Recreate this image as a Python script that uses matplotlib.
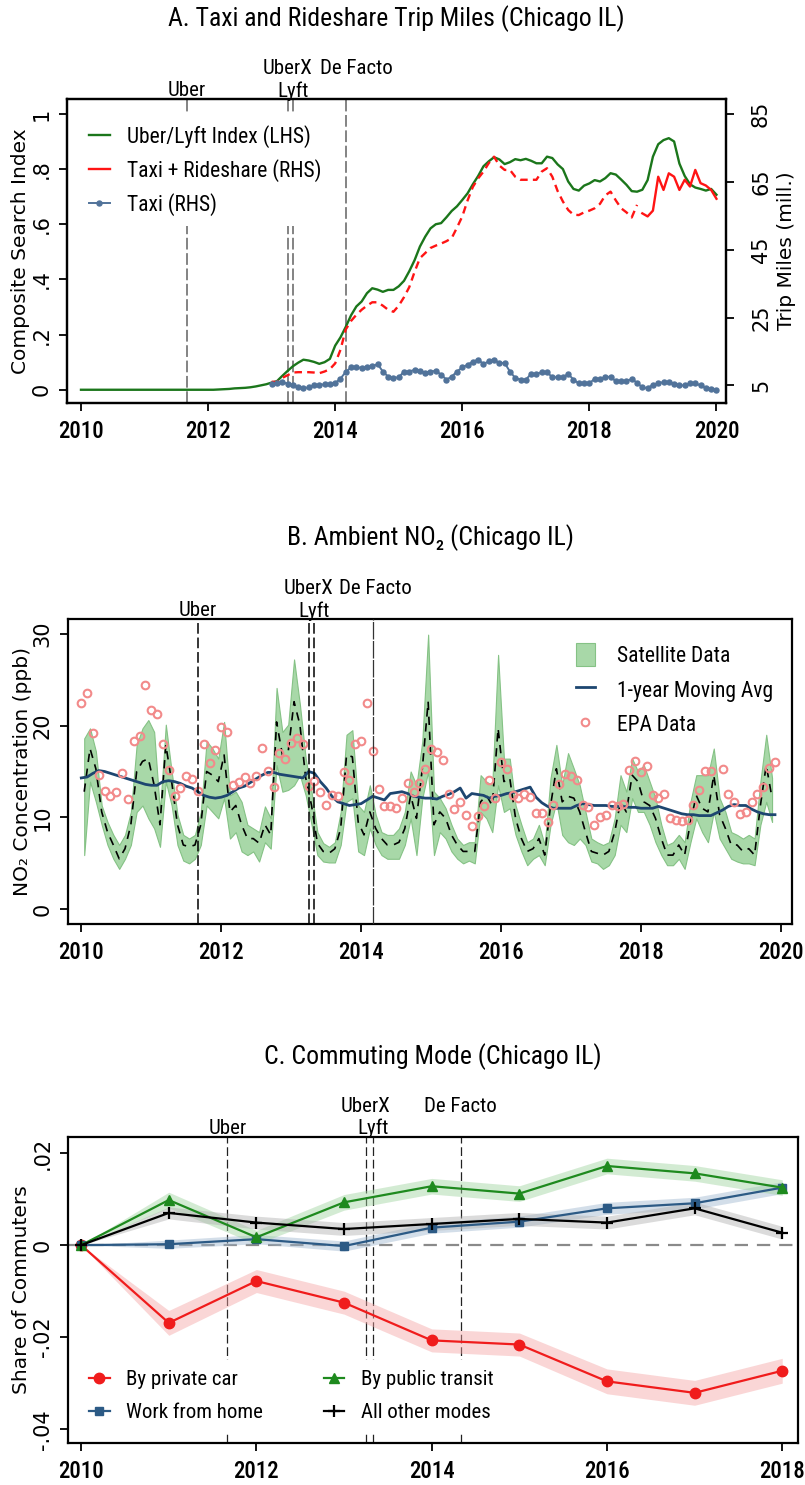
import numpy as np
import matplotlib
matplotlib.use("Agg")
import matplotlib.pyplot as plt
from matplotlib import font_manager as fm
from matplotlib.ticker import FuncFormatter, FixedLocator
from matplotlib.patches import Patch
from matplotlib.lines import Line2D
import matplotlib.transforms as mtransforms

avail = {f.name for f in fm.fontManager.ttflist}
NARROW = next((f for f in ["Liberation Sans Narrow", "Roboto Condensed", "Roboto"] if f in avail), "DejaVu Sans")
WIDE = "DejaVu Sans"
TICK_W = "medium"
TEXT_W = "normal"

# ======================= DATA =======================
# ---- Panel A : monthly, Jan 2010 .. Jan 2020
search_first_year = 2010
uber_lyft_index = [
    0, 0, 0, 0, 0, 0, 0, 0, 0, 0, 0, 0,
    0, 0, 0, 0, 0, 0, 0, 0, 0, 0, 0, 0,
    0, 0, 0.001, 0.002, 0.003, 0.005, 0.006, 0.007, 0.009, 0.012, 0.016, 0.020,
    0.026, 0.031, 0.050, 0.068, 0.085, 0.098, 0.109, 0.106, 0.101, 0.094, 0.100, 0.112,
    0.160, 0.190, 0.228, 0.270, 0.302, 0.320, 0.350, 0.368, 0.363, 0.355, 0.362, 0.362,
    0.375, 0.395, 0.430, 0.470, 0.519, 0.555, 0.585, 0.600, 0.604, 0.625, 0.648, 0.665,
    0.688, 0.712, 0.745, 0.775, 0.810, 0.828, 0.843, 0.835, 0.818, 0.825, 0.836, 0.832,
    0.837, 0.830, 0.821, 0.821, 0.845, 0.840, 0.817, 0.800, 0.755, 0.728, 0.722, 0.740,
    0.748, 0.760, 0.755, 0.767, 0.785, 0.780, 0.762, 0.743, 0.720, 0.718, 0.725, 0.760,
    0.845, 0.890, 0.905, 0.912, 0.900, 0.820, 0.775, 0.745, 0.733, 0.728, 0.722, 0.728,
    0.707,
]
# trip miles (millions), monthly Jan 2013 .. Jan 2020
trips_first_year = 2013
taxi_rideshare_miles = [
    6.1, 6.0, 7.2, 8.0, 8.8, 8.9, 8.9, 8.9, 8.8, 8.6, 9.1, 9.8,
    11.5, 15.5, 21.5, 24.0, 25.8, 27.3, 28.5, 29.5, 29.5, 28.5, 27.3, 26.7,
    28.5, 31.0, 34.0, 38.5, 42.5, 44.0, 45.5, 46.2, 46.8, 47.5, 48.4, 51.5,
    54.8, 59.5, 63.5, 66.0, 68.0, 70.5, 72.4, 69.8, 68.5, 68.5, 66.5, 65.6,
    65.6, 65.6, 65.6, 68.0, 69.0, 66.5, 62.3, 59.2, 56.7, 55.3, 55.2, 56.0,
    56.5, 57.2, 58.5, 61.0, 62.1, 59.5, 57.2, 56.0, 54.5, 58.2, 55.7, 54.8,
    56.5, 66.5, 62.6, 67.5, 66.5, 62.6, 65.6, 63.6, 68.5, 64.6, 63.9, 62.6,
    60.0,
]
rideshare_imputed_until = 2018.75   # dashed segment (through Oct 2018)
taxi_miles = [
    5.4, 5.6, 6.0, 5.5, 5.1, 4.6, 4.2, 4.4, 5.0, 5.2, 5.3, 5.5,
    5.7, 7.0, 9.0, 10.3, 10.3, 10.2, 10.3, 10.6, 11.3, 9.1, 7.6, 7.2,
    7.4, 9.1, 9.1, 9.6, 9.3, 8.8, 9.1, 9.3, 8.2, 6.7, 7.6, 9.1,
    10.3, 11.1, 12.0, 12.6, 11.3, 12.1, 12.6, 11.6, 11.6, 9.1, 7.2, 6.7,
    6.7, 8.4, 8.4, 8.9, 8.9, 7.4, 7.4, 7.4, 8.4, 6.7, 5.6, 5.6,
    5.6, 7.0, 7.0, 7.4, 7.6, 6.2, 6.2, 6.3, 6.9, 5.8, 4.4, 4.2,
    5.2, 5.6, 6.0, 6.0, 5.5, 5.0, 5.0, 5.6, 5.6, 5.0, 4.2, 4.0,
    3.7,
]

# ---- Events
event_names = ["Uber", "UberX", "Lyft", "De Facto"]
event_dates = [2011.67, 2013.25, 2013.33, 2014.17]
event_dates_c = [2011.67, 2013.25, 2013.33, 2014.33]
event_label_dates_a = [2011.67, 2013.25, 2013.33, 2014.33]
event_label_dates_b = [2011.67, 2013.25, 2013.33, 2014.21]

# ---- Panel B : satellite NO2 (monthly Jan 2010 .. Nov 2019)
no2_first_year = 2010
sat_upper = [
    18.6, 19.7, 17.2, 11.3, 9.5, 8.1, 7.0, 8.1, 10.6, 17.9, 19.7, 20.6,
    19.3, 10.6, 20.1, 15.0, 10.3, 8.1, 7.7, 8.1, 10.6, 18.3, 17.5, 16.4,
    20.4, 12.4, 12.8, 11.7, 9.2, 8.8, 8.4, 11.2, 9.9, 24.1, 19.3, 20.1,
    27.2, 22.3, 16.4, 12.8, 8.4, 7.2, 6.8, 7.3, 10.6, 19.0, 19.5, 11.3,
    10.6, 13.5, 10.3, 8.4, 8.1, 8.1, 8.8, 10.6, 15.0, 13.5, 18.3, 29.9,
    12.8, 12.1, 11.0, 9.2, 7.7, 7.0, 7.3, 7.3, 14.6, 13.9, 13.5, 27.7,
    16.4, 16.4, 11.3, 9.2, 7.3, 7.7, 9.2, 7.0, 14.3, 17.9, 13.5, 17.0,
    15.3, 13.5, 10.6, 7.7, 7.3, 7.0, 7.3, 9.9, 14.6, 12.8, 16.4, 15.0,
    15.7, 13.9, 12.1, 9.2, 7.0, 7.3, 8.1, 7.3, 11.7, 14.6, 14.6, 14.6,
    17.5, 12.1, 10.6, 8.4, 8.1, 7.7, 8.1, 7.7, 13.9, 19.0, 14.3,
]
sat_median = [
    12.8, 17.5, 15.3, 10.6, 8.4, 7.0, 5.5, 6.6, 9.2, 15.0, 16.1, 16.4,
    13.5, 9.2, 17.9, 13.9, 9.2, 7.0, 6.8, 7.0, 9.2, 15.0, 14.6, 13.9,
    16.8, 10.6, 11.3, 9.2, 7.7, 7.7, 7.2, 9.2, 8.1, 20.4, 16.8, 17.2,
    22.6, 20.1, 14.3, 11.3, 7.2, 6.3, 6.1, 6.6, 8.8, 16.8, 16.6, 9.5,
    8.1, 10.6, 8.8, 7.7, 7.0, 7.0, 7.3, 8.8, 12.4, 9.9, 15.3, 22.6,
    9.2, 10.6, 9.9, 8.1, 7.0, 6.3, 6.3, 6.3, 11.7, 12.4, 11.3, 19.7,
    13.9, 14.3, 9.9, 7.7, 6.3, 6.6, 7.7, 5.9, 11.3, 15.3, 11.7, 12.3,
    12.1, 10.6, 8.4, 6.3, 6.1, 5.9, 6.3, 8.4, 11.7, 10.6, 14.6, 13.9,
    11.7, 11.3, 9.9, 7.7, 5.9, 5.9, 7.0, 5.9, 9.5, 12.4, 11.0, 10.6,
    14.6, 10.3, 8.8, 7.0, 7.0, 6.3, 6.6, 5.9, 11.3, 15.7, 12.1,
]
sat_lower = [
    5.9, 13.9, 11.7, 9.2, 7.0, 5.5, 4.4, 5.5, 7.0, 10.6, 11.3, 9.9,
    8.8, 6.8, 13.9, 11.3, 7.0, 5.3, 5.0, 5.5, 7.0, 11.3, 10.6, 9.9,
    12.1, 7.7, 8.4, 6.3, 5.9, 6.3, 5.2, 7.3, 6.6, 15.7, 12.8, 13.0,
    13.5, 14.6, 12.4, 9.2, 5.9, 5.2, 5.1, 5.1, 7.0, 11.7, 12.1, 6.3,
    5.9, 8.8, 7.0, 5.9, 5.5, 5.5, 5.5, 7.0, 9.9, 5.9, 12.1, 15.0,
    5.9, 8.4, 7.7, 6.3, 5.5, 5.0, 5.3, 5.0, 10.6, 9.9, 8.4, 13.5,
    10.6, 11.0, 8.1, 6.3, 4.8, 5.5, 5.9, 4.8, 9.2, 11.7, 8.1, 7.3,
    7.0, 7.7, 7.0, 5.2, 5.0, 4.4, 4.8, 5.9, 9.2, 8.4, 12.1, 10.6,
    10.6, 9.2, 7.3, 5.9, 4.8, 4.8, 5.5, 4.4, 7.3, 9.9, 8.4, 7.3,
    10.6, 7.7, 6.6, 5.5, 5.2, 5.0, 5.0, 4.8, 9.2, 11.7, 9.5,
]
# 1-year moving average (monthly Jan 2010 .. Dec 2019)
moving_avg = [
    14.3, 14.4, 14.8, 15.1, 15.0, 14.8, 14.6, 14.4, 14.2, 14.0, 13.8, 13.6,
    13.5, 13.5, 13.9, 14.0, 13.9, 13.7, 13.4, 13.2, 12.8, 12.4, 12.2, 12.1,
    12.2, 12.4, 12.8, 13.2, 13.4, 13.8, 14.2, 14.6, 14.9, 14.9, 14.7, 14.6,
    14.5, 14.4, 14.3, 15.0, 14.8, 13.9, 13.2, 12.3, 11.7, 11.5, 11.3, 11.4,
    11.5, 11.9, 12.3, 12.1, 11.9, 12.6, 12.7, 12.8, 12.6, 12.3, 12.2, 12.1,
    12.1, 12.0, 12.3, 12.5, 12.8, 13.2, 12.1, 12.6, 12.5, 12.4, 12.1, 12.3,
    12.4, 12.6, 12.7, 12.9, 13.1, 13.3, 12.2, 11.6, 11.2, 11.0, 11.0, 11.0,
    11.0, 11.3, 11.5, 11.4, 11.3, 11.3, 11.3, 11.2, 11.2, 11.2, 11.1, 11.1,
    11.0, 11.0, 11.0, 11.2, 11.0, 10.8, 10.6, 10.4, 10.3, 10.3, 10.2, 10.2,
    10.2, 10.5, 10.8, 11.2, 11.4, 11.3, 11.3, 10.9, 10.6, 10.4, 10.3, 10.3,
]
# EPA monitor data (monthly Jan 2010 .. Dec 2019)
epa_no2 = [
    22.5, 23.5, 19.2, 14.6, 12.9, 12.3, 12.8, 14.8, 12.0, 18.3, 18.9, 24.4,
    21.7, 21.3, 18.0, 15.2, 12.3, 13.2, 14.5, 14.2, 12.9, 18.0, 15.9, 17.3,
    19.8, 19.3, 13.5, 13.9, 14.4, 13.8, 14.5, 17.6, 15.1, 13.3, 17.0, 16.4,
    18.1, 18.7, 18.0, 13.4, 14.0, 12.8, 11.3, 12.4, 12.3, 14.9, 14.1, 18.0,
    18.3, 22.5, 17.2, 13.1, 11.2, 11.2, 11.0, 12.1, 13.8, 12.8, 13.7, 15.3,
    17.5, 17.1, 16.3, 12.6, 10.9, 11.7, 10.3, 9.1, 10.2, 11.2, 14.1, 12.1,
    16.0, 15.3, 12.4, 12.1, 12.6, 12.2, 10.5, 10.5, 9.5, 11.3, 13.6, 14.7,
    14.5, 14.1, 11.3, 11.1, 9.2, 10.0, 10.3, 11.3, 11.2, 11.5, 15.2, 16.1,
    14.9, 15.6, 12.4, 12.1, 12.5, 9.9, 9.7, 9.6, 9.7, 11.3, 13.0, 15.1,
    15.1, np.nan, 15.3, 12.5, 11.7, 10.4, 10.6, 11.7, 12.6, 13.3, 15.4, 16.0,
]

# ---- Panel C : commuting mode shares (annual)
years_c = [2010, 2011, 2012, 2013, 2014, 2015, 2016, 2017, 2018]
private_car = [0, -0.0169, -0.0078, -0.0125, -0.0207, -0.0216, -0.0296, -0.0321, -0.0273]
private_car_ci = [0, 0.0027, 0.0025, 0.0025, 0.0025, 0.0025, 0.0027, 0.0027, 0.0027]
public_transit = [0, 0.0098, 0.0017, 0.0093, 0.0128, 0.0112, 0.0172, 0.0156, 0.0125]
public_transit_ci = [0, 0.0017, 0.0015, 0.0017, 0.0017, 0.0017, 0.0017, 0.0017, 0.0017]
work_from_home = [0, 0.0002, 0.0013, -0.0002, 0.0038, 0.0051, 0.0080, 0.0091, 0.0125]
work_from_home_ci = [0, 0.0009, 0.0010, 0.0011, 0.0012, 0.0012, 0.0013, 0.0013, 0.0013]
other_modes = [0, 0.0070, 0.0049, 0.0035, 0.0046, 0.0057, 0.0049, 0.0080, 0.0027]
other_modes_ci = [0, 0.0013, 0.0014, 0.0014, 0.0014, 0.0014, 0.0014, 0.0014, 0.0014]

# ======================= STYLE =======================
W, H = 805, 1485
GREEN = "#1b761b"
RED = "#ff1414"
TAXI = "#51739a"
NAVY = "#1d4670"
EPA_C = "#f28a8a"
BAND_FACE = "#a8d8a8"
BAND_EDGE = "#85c285"
TICK_FS = 16.5
YTICK_FS = 15
LAB_FS = 14.5
LEG_FS = 15.5
EV_FS = 15
TITLE_FS = 18.5
ROW_LO, ROW_HI = 1.027, 1.099


def stata_fmt(v, pos=None):
    s = f"{v:g}"
    if s.startswith("0."):
        s = s[1:]
    elif s.startswith("-0."):
        s = "-" + s[2:]
    return s


def style_axis(ax):
    for sp in ax.spines.values():
        sp.set_linewidth(1.6)
        sp.set_color("black")
    ax.tick_params(axis="x", direction="out", length=6, width=1.3, pad=6)
    ax.tick_params(axis="y", direction="out", length=6, width=1.3, pad=5)
    for lab in ax.get_xticklabels():
        lab.set_fontfamily(NARROW)
        lab.set_fontsize(TICK_FS)
        lab.set_fontweight(TICK_W)
    for lab in ax.get_yticklabels():
        lab.set_fontfamily(WIDE)
        lab.set_fontsize(YTICK_FS)
        lab.set_rotation(90)
        lab.set_va("center")


def put_events(ax, dates, label_dates, line_styles):
    tr = mtransforms.blended_transform_factory(ax.transData, ax.transAxes)
    rows = [ROW_LO, ROW_HI, ROW_LO, ROW_HI]
    for name, d, ld, kw, yy in zip(event_names, dates, label_dates, line_styles, rows):
        ax.axvline(d, **kw)
        ax.text(ld, yy, name, transform=tr, ha="center", va="center",
                fontsize=EV_FS, family=NARROW, fontweight=TEXT_W, clip_on=False)


fig = plt.figure(figsize=(W / 100, H / 100), dpi=100)

# ======================= PANEL A =======================
axA = fig.add_axes([67 / W, 1 - 403 / H, (726 - 67) / W, (403 - 99) / H])
xA = search_first_year + np.arange(len(uber_lyft_index)) / 12.0
axA.plot(xA, uber_lyft_index, color=GREEN, lw=1.7, zorder=3)
axA.set_xlim(2009.78, 2020.15)
axA.set_ylim(-0.048, 1.054)
axA.xaxis.set_major_locator(FixedLocator([2010, 2012, 2014, 2016, 2018, 2020]))
axA.yaxis.set_major_locator(FixedLocator([0, 0.2, 0.4, 0.6, 0.8, 1.0]))
axA.yaxis.set_major_formatter(FuncFormatter(stata_fmt))
a_style = dict(color="#7a7a7a", lw=1.3, dashes=(6.5, 2.0), zorder=1)
put_events(axA, event_dates, event_label_dates_a, [a_style] * 4)

axA2 = axA.twinx()
xT = trips_first_year + np.arange(len(taxi_rideshare_miles)) / 12.0
tr_miles = np.array(taxi_rideshare_miles)
imp = xT <= rideshare_imputed_until + 1e-6
axA2.plot(xT[imp], tr_miles[imp], color=RED, lw=1.7, dashes=(3.2, 2.2), zorder=3)
axA2.plot(xT[~imp], tr_miles[~imp], color=RED, lw=1.7, zorder=3)
axA2.plot(xT, taxi_miles, color=TAXI, lw=1.4, marker="o", ms=3.6, zorder=3)
axA2.set_ylim(-0.18, 89.4)
axA2.yaxis.set_major_locator(FixedLocator([5, 25, 45, 65, 85]))
axA2.set_xlim(2009.78, 2020.15)

style_axis(axA)
style_axis(axA2)
axA2.tick_params(axis="y", pad=12)
axA.set_ylabel("Composite Search Index", fontsize=LAB_FS, family=WIDE)
axA.yaxis.set_label_coords(-0.056, 0.5)
axA2.set_ylabel("Trip Miles (mill.)", fontsize=LAB_FS, family=WIDE, rotation=90)
axA2.yaxis.set_label_coords(1.077, 0.5)

hA = [Line2D([], [], color=GREEN, lw=1.7),
      Line2D([], [], color=RED, lw=1.7),
      Line2D([], [], color=TAXI, lw=1.4, marker="o", ms=3.6)]
legA = axA2.legend(hA, ["Uber/Lyft Index (LHS)", "Taxi + Rideshare (RHS)", "Taxi (RHS)"],
                   loc="upper left", bbox_to_anchor=(0.0, 0.985), frameon=True,
                   facecolor="white", edgecolor="none", framealpha=1,
                   prop={"family": NARROW, "size": LEG_FS, "weight": TEXT_W},
                   handlelength=1.0, handletextpad=0.8, labelspacing=0.5, borderpad=0.5)
legA.set_zorder(10)

fig.text((67 + 726) / 2 / W, 1 - 19 / H, "A. Taxi and Rideshare Trip Miles (Chicago IL)",
         ha="center", va="center", fontsize=TITLE_FS, family=NARROW, fontweight=TEXT_W)

# ======================= PANEL B =======================
axB = fig.add_axes([68 / W, 1 - 924 / H, (792 - 68) / W, (924 - 619) / H])
xS = no2_first_year + (np.arange(len(sat_median)) + 0.5) / 12.0
axB.fill_between(xS, sat_lower, sat_upper, facecolor=BAND_FACE, edgecolor=BAND_EDGE,
                 lw=0.8, zorder=2)
axB.plot(xS, sat_median, color="black", lw=1.2, dashes=(5, 4), zorder=3)
xM = no2_first_year + np.arange(len(moving_avg)) / 12.0
axB.plot(xM, moving_avg, color=NAVY, lw=2.0, zorder=4)
xE = no2_first_year + np.arange(len(epa_no2)) / 12.0
axB.plot(xE, epa_no2, ls="none", marker="o", ms=5.5, mfc="none", mec=EPA_C, mew=1.5, zorder=5)
axB.set_xlim(2009.81, 2020.16)
axB.set_ylim(-1.6, 31.6)
axB.xaxis.set_major_locator(FixedLocator([2010, 2012, 2014, 2016, 2018, 2020]))
axB.yaxis.set_major_locator(FixedLocator([0, 10, 20, 30]))
b_dash = dict(color="black", lw=1.1, dashes=(7, 2.5), zorder=6)
b_solid = dict(color="#333333", lw=0.9, dashes=(14, 1.2), zorder=6)
put_events(axB, event_dates, event_label_dates_b, [b_dash, b_dash, b_dash, b_solid])
style_axis(axB)
axB.set_ylabel("NO\u2082 Concentration (ppb)", fontsize=LAB_FS, family=WIDE)
axB.yaxis.set_label_coords(-0.05, 0.5)
hB = [Patch(facecolor=BAND_FACE, edgecolor=BAND_EDGE, lw=0.8),
      Line2D([], [], color=NAVY, lw=2.0),
      Line2D([], [], ls="none", marker="o", ms=5.5, mfc="none", mec=EPA_C, mew=1.5)]
legB = axB.legend(hB, ["Satellite Data", "1-year Moving Avg", "EPA Data"],
                  loc="upper right", bbox_to_anchor=(1.0, 0.985), frameon=False,
                  prop={"family": NARROW, "size": LEG_FS, "weight": TEXT_W},
                  handlelength=0.9, handleheight=1.3, handletextpad=1.0,
                  labelspacing=0.5, borderpad=0.4)
legB.set_zorder(10)
fig.text((68 + 792) / 2 / W, 1 - 538 / H, "B. Ambient NO\u2082 (Chicago IL)",
         ha="center", va="center", fontsize=TITLE_FS, family=[NARROW, "DejaVu Sans"],
         fontweight=TEXT_W)

# ======================= PANEL C =======================
axC = fig.add_axes([68 / W, 1 - 1443 / H, (798 - 68) / W, (1443 - 1137) / H])
series_c = [
    (private_car, private_car_ci, "#f01c1c", "#f5a5a5", "o", 7.5, "By private car"),
    (work_from_home, work_from_home_ci, "#2c5a85", "#9fb7cf", "s", 6.0, "Work from home"),
    (public_transit, public_transit_ci, "#1e8a1e", "#9fd49f", "^", 7.0, "By public transit"),
    (other_modes, other_modes_ci, "black", "#b0b0b0", "+", 9.0, "All other modes"),
]
yc = np.array(years_c, dtype=float)
handles_c = []
for vals, ci, col, bcol, mk, ms, lab in series_c:
    v = np.array(vals)
    c = np.array(ci)
    axC.fill_between(yc, v - c, v + c, color=bcol, alpha=0.45, lw=0, zorder=2)
for vals, ci, col, bcol, mk, ms, lab in series_c:
    mew = 1.6 if mk == "+" else 1.0
    axC.plot(yc, vals, color=col, lw=1.6, marker=mk, ms=ms, mew=mew, zorder=4)
    handles_c.append(Line2D([], [], color=col, lw=1.6, marker=mk, ms=ms, mew=mew))
axC.axhline(0, color="#8a8a8a", lw=1.6, dashes=(6, 4), zorder=1)
axC.set_xlim(2009.85, 2018.18)
axC.set_ylim(-0.043, 0.0235)
axC.xaxis.set_major_locator(FixedLocator([2010, 2012, 2014, 2016, 2018]))
axC.yaxis.set_major_locator(FixedLocator([-0.04, -0.02, 0, 0.02]))
axC.yaxis.set_major_formatter(FuncFormatter(stata_fmt))
c_style = dict(color="#222222", lw=0.9, dashes=(7, 3), zorder=1.5)
put_events(axC, event_dates_c, event_dates_c, [c_style] * 4)
style_axis(axC)
axC.set_ylabel("Share of Commuters", fontsize=LAB_FS, family=WIDE)
axC.yaxis.set_label_coords(-0.051, 0.5)
legC = axC.legend(handles_c, [s[-1] for s in series_c], ncol=2, loc="lower left",
                  bbox_to_anchor=(0.0, 0.0), frameon=True, facecolor="white",
                  edgecolor="none", framealpha=1,
                  prop={"family": NARROW, "size": 15, "weight": TEXT_W},
                  handlelength=1.0, handletextpad=0.8, labelspacing=0.67,
                  columnspacing=2.9, borderpad=0.5)
legC.set_zorder(10)
fig.text((68 + 798) / 2 / W, 1 - 1057 / H, "C. Commuting Mode (Chicago IL)",
         ha="center", va="center", fontsize=TITLE_FS, family=NARROW, fontweight=TEXT_W)

fig.savefig("out.png", dpi=100, facecolor="white")
